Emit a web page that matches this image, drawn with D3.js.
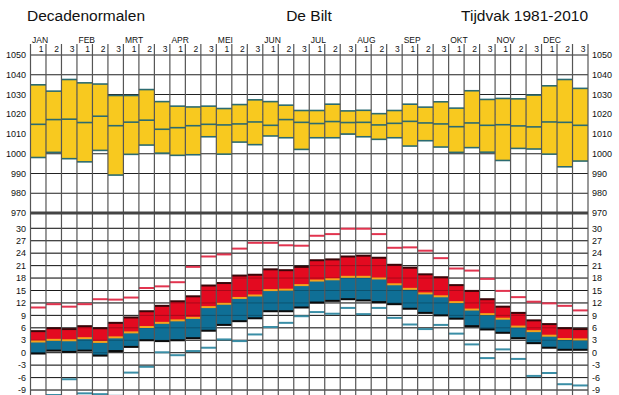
<!DOCTYPE html>
<html lang="nl">
<head>
<meta charset="UTF-8">
<script src="https://d3js.org/d3.v7.min.js"></script>
<style>
  body { margin: 0; background: #fff; }
  text { font-family: "Liberation Sans", Arial, sans-serif; fill: #111; }
</style>
</head>
<body>
<div id="chart"></div>
<script>
// maanden en decaden
const months = ['JAN','FEB','MRT','APR','MEI','JUN','JUL','AUG','SEP','OKT','NOV','DEC']
const decades = ['1','2','3']

// luchtdruk (hPa) per decade: hoogste, gemiddelde, laagste
const pressMax = [1034.9,1031.7,1037.6,1035.9,1035.3,1029.5,1029.5,1032.5,1026.4,1024.1,1023.7,1024.1,
                  1022.9,1024.9,1027.3,1026.4,1024.6,1021.9,1021.9,1025.1,1021.7,1022.0,1020.3,1021.9,
                  1025.1,1023.6,1026.3,1023.1,1031.9,1027.5,1028.0,1027.8,1029.7,1034.4,1037.6,1033.1]
const pressMean = [1014.9,1017.3,1017.5,1015.8,1019.0,1014.2,1016.0,1017.0,1012.4,1013.2,1014.2,1014.9,
                   1014.6,1015.1,1016.1,1014.4,1017.3,1015.9,1015.3,1016.3,1015.8,1015.9,1014.6,1015.4,
                   1016.4,1015.6,1015.1,1013.7,1015.6,1014.4,1014.7,1014.1,1013.6,1016.1,1015.9,1014.4]
const pressMin = [998.1,1000.7,997.5,995.9,1001.7,989.2,999.7,1004.4,1000.3,999.2,999.5,1008.6,
                  999.8,1005.9,1004.6,1009.0,1008.1,1002.2,1008.1,1008.1,1010.0,1008.6,1007.3,1008.1,
                  1003.9,1006.6,1003.4,1000.7,1003.1,1000.8,996.6,1002.7,1002.4,999.8,993.4,996.3]

// temperatuur (°C) per decade
const tHigh = [10.9,11.7,11.1,11.7,12.9,12.8,13.3,15.6,16.0,17.0,20.7,23.2,
               23.7,25.1,26.5,26.5,25.9,25.8,28.2,28.6,29.9,29.9,28.6,25.3,
               25.4,24.6,22.8,20.3,19.8,17.8,14.9,13.4,12.3,11.9,11.3,10.2]
const tMax = [5.2,5.9,5.7,6.4,5.9,7.2,8.5,10.0,11.3,12.4,13.6,16.2,
              16.8,18.6,18.8,20.1,19.9,20.7,22.3,22.5,23.2,23.4,22.9,21.2,
              20.5,18.9,18.2,16.3,14.9,12.9,11.1,9.6,7.8,6.9,5.9,5.7]
const tMean = [2.7,3.1,3.0,3.5,2.6,3.7,4.9,6.2,7.2,7.8,8.4,11.0,
               11.8,13.2,13.8,15.1,15.2,16.3,17.4,17.7,18.3,18.3,17.9,16.5,
               15.4,14.3,13.6,12.2,10.4,9.3,8.2,6.3,5.2,4.1,3.3,3.2]
const tMin = [-0.2,0.5,0.2,0.5,-0.7,0.4,1.4,3.0,2.8,3.0,3.5,5.3,
              6.7,7.6,8.3,10.0,10.0,10.9,12.1,12.5,12.9,12.6,12.2,11.7,
              10.6,9.6,9.0,8.2,6.4,5.6,4.8,3.5,2.3,1.2,0.7,0.7]
const tLow = [-10.5,-10.2,-6.4,-9.8,-10.0,-10.4,-4.8,-3.4,0.1,-0.6,0.4,1.2,
              3.2,2.8,4.4,6.2,7.2,8.8,9.8,9.4,10.8,9.3,10.8,8.4,
              6.8,5.7,6.7,4.6,2.0,-1.3,0.8,-1.5,-5.6,-4.9,-7.6,-7.9]

const pressTicks = [970,980,990,1000,1010,1020,1030,1040,1050]
const tempTicks = [-12,-9,-6,-3,0,3,6,9,12,15,18,21,24,27,30]

const W = 619, H = 395
const svg = d3.select('#chart').append('svg').attr('width', W).attr('height', H)

const labels = []
months.forEach(m => decades.forEach(d => labels.push(m + d)))

const x = d3.scaleBand().domain(labels).range([30.5, 588]).padding(0)
const yP = d3.scaleLinear().domain([970, 1050]).range([213, 55])
const yT = d3.scaleLinear().domain([0, 30]).range([352.7, 228.3])
const bw = x.bandwidth()

// titels
svg.append('text').attr('x', 27).attr('y', 21).style('font-size', '15.5px').text('Decadenormalen')
svg.append('text').attr('x', 309).attr('y', 21).attr('text-anchor', 'middle').style('font-size', '15.5px').text('De Bilt')
svg.append('text').attr('x', 588).attr('y', 21).attr('text-anchor', 'end').style('font-size', '15.5px').text('Tijdvak 1981-2010')

// maand- en decadelabels
svg.selectAll('.mlab').data(months).enter().append('text')
  .attr('x', (d, i) => x(d + '1') + 1.5)
  .attr('y', 43)
  .style('font-size', '8.5px')
  .text(d => d)
svg.selectAll('.dlab').data(labels).enter().append('text')
  .attr('x', d => x(d) + bw - 2.5)
  .attr('y', 52)
  .attr('text-anchor', 'end')
  .style('font-size', '8.5px')
  .text(d => d.slice(-1))

// horizontaal raster luchtdruk (achter de boxen)
svg.append('g').selectAll('line').data(pressTicks.filter(v => v > 970)).enter().append('line')
  .attr('x1', 30.5).attr('x2', 588)
  .attr('y1', d => yP(d)).attr('y2', d => yP(d))
  .attr('stroke', '#222').attr('stroke-width', 1)

// luchtdruk boxen
const pg = svg.append('g')
pg.selectAll('rect').data(labels).enter().append('rect')
  .attr('x', d => x(d)).attr('width', bw)
  .attr('y', (d, i) => yP(pressMax[i]))
  .attr('height', (d, i) => yP(pressMin[i]) - yP(pressMax[i]))
  .attr('fill', '#f8c91f')
;[pressMax, pressMean, pressMin].forEach(arr => {
  pg.selectAll(null).data(labels).enter().append('line')
    .attr('x1', d => x(d)).attr('x2', d => x(d) + bw)
    .attr('y1', (d, i) => yP(arr[i])).attr('y2', (d, i) => yP(arr[i]))
    .attr('stroke', '#2b6b70').attr('stroke-width', 1.6)
})

// horizontaal raster temperatuur (achter de boxen)
svg.append('g').selectAll('line').data(tempTicks).enter().append('line')
  .attr('x1', 30.5).attr('x2', 588)
  .attr('y1', d => yT(d)).attr('y2', d => yT(d))
  .attr('stroke', '#222').attr('stroke-width', 1)

// temperatuur boxen
const tg = svg.append('g')
tg.selectAll('.red').data(labels).enter().append('rect')
  .attr('x', d => x(d)).attr('width', bw)
  .attr('y', (d, i) => yT(tMax[i]))
  .attr('height', (d, i) => yT(tMean[i]) - yT(tMax[i]))
  .attr('fill', '#e30a20')
tg.selectAll('.blue').data(labels).enter().append('rect')
  .attr('x', d => x(d)).attr('width', bw)
  .attr('y', (d, i) => yT(tMean[i]))
  .attr('height', (d, i) => yT(tMin[i]) - yT(tMean[i]))
  .attr('fill', '#0f6f96')

// raster doorschijnend over de boxen
tg.selectAll('.ht').data(tempTicks).enter().append('line')
  .attr('x1', 30.5).attr('x2', 588)
  .attr('y1', d => yT(d)).attr('y2', d => yT(d))
  .attr('stroke', '#000').attr('stroke-opacity', 0.25).attr('stroke-width', 1)

function hline(arr, color, w) {
  tg.selectAll(null).data(labels).enter().append('line')
    .attr('x1', d => x(d)).attr('x2', d => x(d) + bw)
    .attr('y1', (d, i) => yT(arr[i])).attr('y2', (d, i) => yT(arr[i]))
    .attr('stroke', color).attr('stroke-width', w)
}
hline(tMax, '#3a0508', 2)
hline(tMean, '#f5a21c', 2)
hline(tMin, '#0b0b0b', 2)
hline(tHigh, '#e2344f', 2)
hline(tLow, '#3a8ea6', 2)

// verticale lijnen
const grid = svg.append('g')
const edges = labels.map(d => x(d)).concat([x(labels[35]) + bw])
grid.selectAll('.v').data(edges).enter().append('line')
  .attr('x1', d => d).attr('x2', d => d)
  .attr('y1', 44).attr('y2', H)
  .attr('stroke', '#555').attr('stroke-width', 1.2)
grid.append('line')
  .attr('x1', 30.5).attr('x2', 588).attr('y1', yP(970)).attr('y2', yP(970))
  .attr('stroke', '#444').attr('stroke-width', 3)

// as-labels
const axisL = svg.append('g')
function ylabels(ticks, scale) {
  ticks.forEach(v => {
    axisL.append('text').attr('x', 26).attr('y', scale(v) + 3.2)
      .attr('text-anchor', 'end').style('font-size', '9px').text(v)
    axisL.append('text').attr('x', 592).attr('y', scale(v) + 3.2)
      .style('font-size', '9px').text(v)
  })
}
ylabels(pressTicks, yP)
ylabels(tempTicks.filter(v => v >= -9), yT)
</script>
</body>
</html>
